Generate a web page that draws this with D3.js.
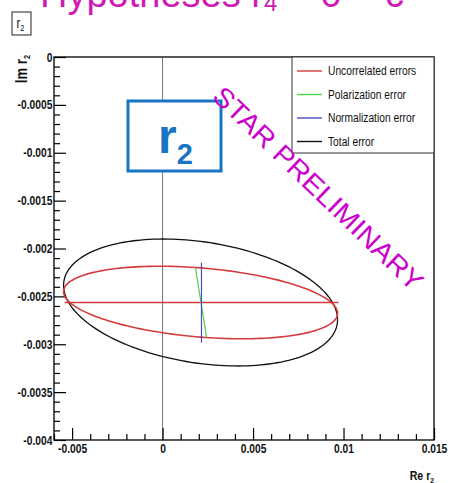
<!DOCTYPE html>
<meta charset="utf-8">
<style>
body { margin: 0; background: #fff; }
svg { display: block; }
.axis path { display: none; }
.axis line { stroke: #000; stroke-width: 1.2px; }
.axis text { font: bold 12.5px "Liberation Sans", Arial, sans-serif; fill: #111; }
.lab { font-family: "Liberation Sans", Arial, sans-serif; font-weight: bold; fill: #111; }
.leg { font: 12.5px "Liberation Sans", Arial, sans-serif; fill: #111; }
</style>
<body>
<script src="https://cdnjs.cloudflare.com/ajax/libs/d3/7.8.5/d3.min.js"></script>
<script>
// axis ticks
var xMajor = [-0.005, 0, 0.005, 0.01, 0.015];
var xMajorLabels = ["-0.005", "0", "0.005", "0.01", "0.015"];
var xMinor = [-0.006, -0.004, -0.003, -0.002, -0.001, 0.001, 0.002, 0.003, 0.004,
              0.006, 0.007, 0.008, 0.009, 0.011, 0.012, 0.013, 0.014];
var yMajor = [0, -0.0005, -0.001, -0.0015, -0.002, -0.0025, -0.003, -0.0035, -0.004];
var yMajorLabels = ["0", "-0.0005", "-0.001", "-0.0015", "-0.002", "-0.0025", "-0.003", "-0.0035", "-0.004"];
var yMinor = [];
for (var i = 1; i < 40; i++) if (i % 5) yMinor.push(-i * 0.0001);

// error contours: centre, sigmas and correlation
var centre = {x: 0.0021, y: -0.002564};
var uncorrelated = {sx: 0.00757, sy: 0.000379, rho: -0.3};
var total = {sx: 0.00757, sy: 0.000663, rho: -0.27};
// error bars
var uncorrBar = [{x: -0.00541, y: -0.002564}, {x: 0.00972, y: -0.002564}];
var polarization = [{x: 0.00182, y: -0.002204}, {x: 0.00243, y: -0.002925}];
var normalization = [{x: 0.00215, y: -0.002148}, {x: 0.00215, y: -0.002984}];

var legendNames = ["Uncorrelated errors", "Polarization error", "Normalization error", "Total error"];
var legendColors = ["#d43c3c", "#4cd44c", "#4a4ac8", "#111"];

var W = 452, H = 483;
var narrow = "scale(0.82,1)";
var x = d3.scaleLinear().domain([-0.006, 0.015]).range([54, 434]);
var y = d3.scaleLinear().domain([0, -0.004]).range([57, 440]);

var svg = d3.select("body").append("svg").attr("width", W).attr("height", H);

// cut-off title at the top
var tt = svg.append("text").attr("x", 40).attr("y", 7)
    .style("font", "38px 'Liberation Sans', sans-serif").style("fill", "#d01ab4");
tt.append("tspan").text("Hypotheses r");
tt.append("tspan").attr("dy", 4).style("font-size", "24px").text("4");
tt.append("tspan").attr("dy", -4).text(" = 0 = c");

// small r2 box
svg.append("rect").attr("x", 12).attr("y", 12).attr("width", 19).attr("height", 23)
    .style("fill", "#fff").style("stroke", "#222").style("stroke-width", 1);
var tb = svg.append("g").attr("transform", "translate(16.5,28) " + narrow)
  .append("text").attr("class", "lab").style("font-size", "14px").style("font-weight", "normal");
tb.append("tspan").text("r");
tb.append("tspan").attr("dy", 3).style("font-size", "9px").text("2");

// zero line
svg.append("line").attr("x1", x(0)).attr("x2", x(0)).attr("y1", y(0)).attr("y2", y(-0.004))
    .style("stroke", "#777").style("stroke-width", 1);

// axes
svg.append("g").attr("class", "axis").attr("transform", "translate(0," + y(-0.004) + ")")
    .call(d3.axisBottom(x).tickValues(xMajor).tickSize(-12).tickPadding(4)
      .tickFormat(function(d, i) { return xMajorLabels[i]; }))
    .selectAll("text").attr("y", 4).attr("dy", "0.71em").attr("transform", narrow);
svg.append("g").attr("class", "axis").attr("transform", "translate(0," + y(-0.004) + ")")
    .call(d3.axisBottom(x).tickValues(xMinor).tickSize(-6).tickFormat(""));
svg.append("g").attr("class", "axis").attr("transform", "translate(" + x(-0.006) + ",0)")
    .call(d3.axisLeft(y).tickValues(yMajor).tickSize(-12).tickPadding(2)
      .tickFormat(function(d, i) { return yMajorLabels[i]; }))
    .selectAll("text").attr("transform", narrow);
svg.append("g").attr("class", "axis").attr("transform", "translate(" + x(-0.006) + ",0)")
    .call(d3.axisLeft(y).tickValues(yMinor).tickSize(-6).tickFormat(""));

// frame
svg.append("rect").attr("x", x(-0.006)).attr("y", y(0))
    .attr("width", x(0.015) - x(-0.006)).attr("height", y(-0.004) - y(0))
    .style("fill", "none").style("stroke", "#000").style("stroke-width", 1.3);

// axis titles
var yl = svg.append("g").attr("transform", "translate(27,55) rotate(-90) " + narrow)
  .append("text").attr("class", "lab").attr("text-anchor", "end").style("font-size", "16px");
yl.append("tspan").text("Im r");
yl.append("tspan").attr("dy", 3).style("font-size", "9px").text("2");
var xl = svg.append("g").attr("transform", "translate(434,480) " + narrow)
  .append("text").attr("class", "lab").attr("text-anchor", "end").style("font-size", "13px");
xl.append("tspan").text("Re r");
xl.append("tspan").attr("dy", 3).style("font-size", "8px").text("2");

// ellipses
var line = d3.line().x(function(d) { return x(d.x); }).y(function(d) { return y(d.y); });
function contour(e) {
  return d3.range(0, 361, 2).map(function(a) {
    var t = a * Math.PI / 180;
    return {x: centre.x + e.sx * Math.cos(t),
            y: centre.y + e.sy * (e.rho * Math.cos(t) + Math.sqrt(1 - e.rho * e.rho) * Math.sin(t))};
  });
}
svg.append("path").attr("d", line(contour(total)))
    .style("fill", "none").style("stroke", "#111").style("stroke-width", 1.3);
svg.append("path").attr("d", line(contour(uncorrelated)))
    .style("fill", "none").style("stroke", legendColors[0]).style("stroke-width", 1.6);
svg.append("path").attr("d", line(uncorrBar))
    .style("fill", "none").style("stroke", legendColors[0]).style("stroke-width", 1.6);
svg.append("path").attr("d", line(polarization))
    .style("fill", "none").style("stroke", legendColors[1]).style("stroke-width", 1.2);
svg.append("path").attr("d", line(normalization))
    .style("fill", "none").style("stroke", legendColors[2]).style("stroke-width", 1.2);

// legend
svg.append("rect").attr("x", 292).attr("y", 57).attr("width", 142).attr("height", 96)
    .style("fill", "#fff").style("stroke", "#333").style("stroke-width", 1);
var lg = svg.selectAll(".lgi").data(legendNames).enter().append("g")
    .attr("transform", function(d, i) { return "translate(0," + (71 + i * 23.5) + ")"; });
lg.append("line").attr("x1", 297).attr("x2", 322)
    .style("stroke", function(d, i) { return legendColors[i]; }).style("stroke-width", 1.4);
lg.append("g").attr("transform", "translate(328,0) " + narrow)
  .append("text").attr("class", "leg").attr("dy", "0.35em").text(function(d) { return d; });

// r2 label box
svg.append("rect").attr("x", 128).attr("y", 101).attr("width", 93).attr("height", 70)
    .style("fill", "#fff").style("stroke", "#1874c4").style("stroke-width", 3);
var rb = svg.append("text").attr("x", 158).attr("y", 153)
    .style("font", "bold 48px 'Liberation Sans', Arial, sans-serif").style("fill", "#1874c4");
rb.append("tspan").text("r");
rb.append("tspan").attr("dy", 11).style("font-size", "29px").text("2");

// preliminary stamp
svg.append("text").attr("transform", "translate(211,98) rotate(44)")
    .attr("textLength", 280).attr("lengthAdjust", "spacingAndGlyphs")
    .style("font", "27px 'Liberation Sans', Arial, sans-serif").style("fill", "#cc00cc")
    .text("STAR PRELIMINARY");
</script>
</body>
